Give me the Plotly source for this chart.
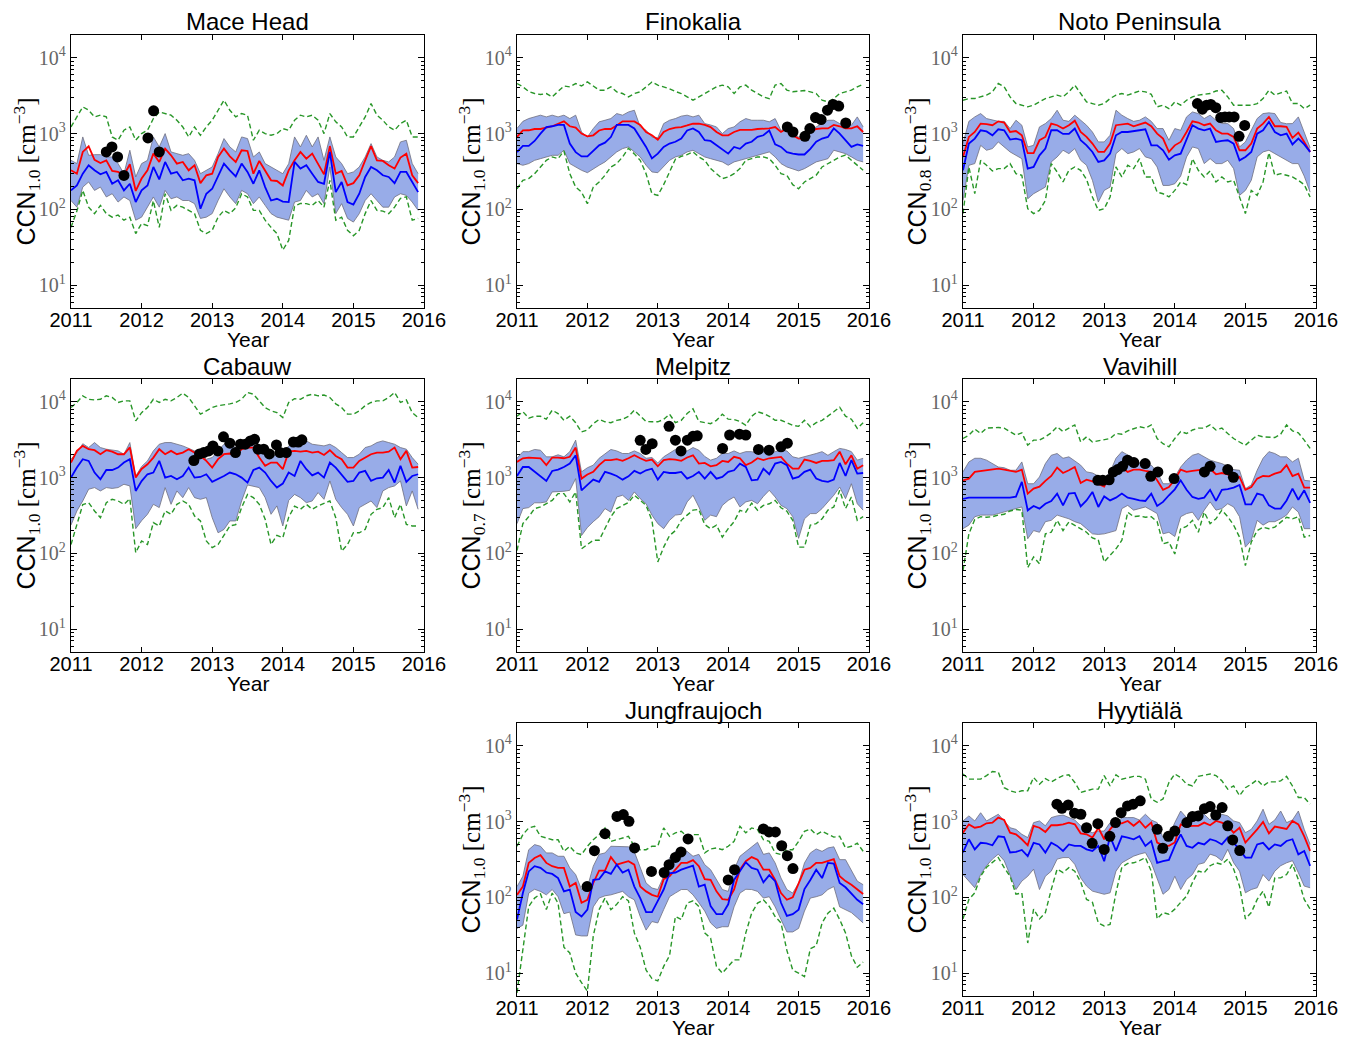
import plotly.graph_objects as go

# ---------------- time axis (monthly, 2011-01 .. 2015-12) ----------------
MONTHS = [2011 + m / 12 for m in range(60)]
YEARS = [2011, 2012, 2013, 2014, 2015, 2016]
YEAR_LABELS = ["2011", "2012", "2013", "2014", "2015", "2016"]
Y_TICKS = [10, 100, 1000, 10000]
Y_TICK_LABELS = ["10<sup>1</sup>", "10<sup>2</sup>", "10<sup>3</sup>", "10<sup>4</sup>"]

# ---------------- Mace Head ----------------
MH_MEAN = [328,296,573,680,452,410,444,322,312,282, 394,175,255,328,544,423,634,517,402,423,
           328,382,222,282,296,492,634,502,423,603, 590,296,436,328,242,237,207,328,444,573,
           467,544,402,290,685,296,322,207,222,282, 444,685,444,436,382,345,482,544,282,222]
MH_MEDIAN = [178,207,296,382,328,290,312,218,242,178, 218,125,178,207,363,249,423,296,312,242,
             255,242,102,161,187,282,402,328,273,402, 312,218,328,197,131,138,127,125,423,345,
             382,296,230,218,573,169,230,125,116,161, 268,363,328,282,268,222,312,312,230,169]
MH_P75 = [444,402,904,517,528,528,492,492,402,296, 603,268,402,444,904,667,1000,573,544,517,
          544,444,296,328,363,544,860,667,573,904, 860,492,573,402,363,328,296,400,904,667,
          950,667,904,444,904,492,402,296,312,363, 492,738,492,444,423,492,777,817,402,296]
MH_P25 = [131,107,197,230,178,197,146,161,125,146, 131,72,79,107,146,107,178,138,146,131,
          131,119,76,79,88,131,187,146,119,178, 161,119,146,113,88,79,76,72,125,131,
          178,146,161,119,363,88,119,76,68,88, 131,161,131,107,107,146,161,153,125,97]
MH_P95 = [1225,1661,2252,2034,1661,1750,1661,904,817,1107, 1225,817,1000,1107,1580,1930,1838,1750,1501,1225,
          904,1225,950,1225,1501,2034,2757,2034,1661,1838, 1750,817,1107,1000,950,1000,1165,1107,1501,1750,
          1661,1750,1501,1000,1838,1430,1225,904,904,1225, 1661,2492,1750,1501,1225,1107,1356,1501,904,904]
MH_P05 = [58,95,178,107,88,113,88,79,84,72, 79,48,65,61,130,58,161,97,113,107,
          97,88,53,48,53,79,97,88,105,161, 146,97,97,72,58,48,29,39,110,120,
          119,113,131,107,242,72,79,53,45,53, 88,131,97,95,88,107,140,146,72,76]
MH_OBS_T = [2011.50, 2011.58, 2011.66, 2011.75, 2012.09, 2012.17, 2012.25]
MH_OBS_V = [573, 667, 492, 281, 877, 2000, 573]

# ---------------- Finokalia ----------------
FK_MEAN = [904,1100,1107,1150,1150,1200,1250,1350,1450,1250, 1200,1000,920,950,1100,1150,1150,1280,1450,1450,
           1450,1300,1050,950,830,1050,1150,1200,1220,1280, 1350,1350,1300,1220,1050,950,950,1050,1120,1120,
           1120,1150,1170,1170,1220,1050,1170,950,860,860, 1050,1150,1170,1170,1300,1250,1170,1170,1250,1050]
FK_MEDIAN = [570,690,690,800,1000,1220,1250,1300,1300,740, 570,500,500,600,700,760,900,1300,1300,1300,
             1170,900,667,470,544,667,740,780,860,1100, 1170,1050,817,800,700,630,544,667,630,740,
             780,904,950,1100,720,667,570,544,530,530, 630,780,860,904,1170,1000,817,667,720,690]
FK_P75 = [1170,1450,1580,1661,1750,1661,1750,1661,1750,1580, 1750,1050,900,1165,1430,1501,1580,1838,1750,1930,
          2034,1225,1107,900,880,1356,1501,1580,1700,1750, 1661,1750,1356,1300,1225,1000,1165,1225,1430,1580,
          1501,1501,1501,1430,1580,1100,1250,1050,900,920, 1107,1225,1356,1501,1501,1356,1290,1290,1661,1225]
FK_P25 = [402,382,402,444,467,492,517,517,603,402, 363,328,305,345,382,423,492,573,634,667,
          573,492,382,312,305,363,444,492,517,573, 603,544,492,467,444,423,382,423,444,467,
          492,517,544,573,492,402,363,345,322,345, 382,423,444,467,603,573,544,492,444,423]
FK_P95 = [4580,4140,3600,3380,3280,3380,3050,3600,4250,4140, 4580,4250,4800,4250,3740,3740,4140,3560,3380,3050,
          3380,3560,4140,4800,4360,4140,3900,3600,3380,3050, 2757,3050,3380,3740,4140,4360,4140,3380,4140,4360,
          3740,3380,3050,2900,4360,4580,3740,3560,3650,3700, 3560,3380,2757,2620,2900,3380,3560,3740,4140,4480]
FK_P05 = [187,242,255,296,363,444,492,467,590,296, 197,169,119,197,230,282,363,402,492,640,
          540,444,296,161,153,212,312,460,502,528, 573,492,444,345,296,255,268,296,345,444,
          467,492,492,467,382,296,282,212,187,230, 255,282,363,402,444,492,520,444,382,328]
FK_OBS_T = [2014.84, 2014.92, 2015.09, 2015.16, 2015.24, 2015.32, 2015.41, 2015.49, 2015.57, 2015.67]
FK_OBS_V = [1225, 1050, 920, 1165, 1630, 1530, 2034, 2430, 2310, 1380]

# ---------------- Noto Peninsula ----------------
NP_MEAN = [492,904,1050,1356,1330,1290,1450,1400,1050,1080, 950,552,552,817,904,1356,1290,1165,1290,1480,
           1050,904,738,573,573,738,1290,1330,1356,1250, 1330,1400,1250,1000,860,573,700,777,1050,1450,
           1400,1290,1356,1107,1000,1000,904,603,603,738, 1165,1356,1661,1250,1250,1225,880,1030,777,573]
NP_MEDIAN = [328,738,860,1107,1070,950,1140,1107,834,860, 817,345,363,517,634,1107,1107,990,990,1165,
             817,700,573,423,444,544,950,1050,1050,1070, 1107,1140,700,700,603,453,517,544,817,1290,
             1165,1107,1165,777,800,817,738,444,492,573, 1000,1107,1430,1050,950,1000,720,860,720,573]
NP_P75 = [738,1450,1661,1838,1580,1530,1450,1450,1165,1501, 1290,667,700,1225,1356,1580,2034,1501,1450,1750,
          1501,1290,1050,777,777,950,2034,1750,1580,1450, 1501,1661,1450,1165,1165,817,1165,1107,1661,1930,
          1838,1580,1750,1501,1356,1356,1165,667,777,1107, 1580,1838,1880,1838,1400,1350,1356,1661,1050,650]
NP_P25 = [131,382,402,700,603,634,777,667,573,517, 467,138,161,178,197,423,492,603,544,634,
          444,382,242,125,178,197,544,634,544,573, 634,492,467,363,207,207,218,275,492,667,
          634,402,467,402,402,444,345,153,178,242, 492,573,603,544,492,444,402,402,275,169]
NP_P95 = [2757,2900,2900,3050,3220,3560,4580,4140,3050,2492, 2370,2252,2370,2620,2900,3050,3220,3050,3560,4360,
          3380,2620,2492,2370,2492,2900,3220,3380,3220,3450, 3650,3560,3300,2252,2370,2140,2620,2370,2757,3050,
          3220,3300,3380,3650,3740,3050,2370,2370,2370,2370, 2492,2900,3740,3220,3450,3650,2492,2492,2140,2370]
NP_P05 = [88,363,161,444,382,322,345,345,402,296, 282,102,88,97,131,402,312,230,328,363,
          328,249,146,97,102,146,363,268,382,345, 467,268,268,169,161,146,178,230,212,467,
          328,268,322,230,268,230,242,146,88,178, 153,230,560,282,296,282,268,242,212,146]
NP_OBS_T = [2014.32, 2014.39, 2014.45, 2014.51, 2014.58, 2014.65, 2014.71, 2014.77, 2014.84, 2014.91, 2014.99]
NP_OBS_V = [2492, 2100, 2370, 2430, 2200, 1630, 1661, 1661, 1661, 920, 1280]

# ---------------- Cabauw ----------------
CB_MEAN = [1580,2250,2620,2370,2300,2034,2300,2200,2034,2034, 2500,1000,1300,1500,1838,2370,2034,2252,2034,2140,
           2370,2140,1930,1661,1356,1750,2034,2080,2034,2370, 2492,2492,1838,1430,1580,1580,1290,2200,2252,2200,
           2252,2140,2200,1990,2300,1930,1750,1356,1356,1661, 1838,2034,2140,2140,2200,2492,1750,2252,1356,1380]
CB_MEDIAN = [1000,1356,1750,1661,1165,950,1260,1260,1356,1580, 1750,667,900,1107,1165,1661,1000,1050,950,1050,
             1356,1000,1020,1107,880,950,1050,1165,1107,1000, 860,1260,1356,1165,904,738,834,1165,1050,1661,
             1290,1070,1165,1000,1580,1356,1107,880,904,1165, 1225,904,980,1000,1260,860,1430,880,1050,1107]
CB_P75 = [1750,2140,2800,2492,2900,2492,2370,2300,2252,2034, 2900,1050,1400,1661,2252,2757,2900,2900,2757,2620,
          2430,2252,2034,1750,1838,2252,2757,2757,2492,2757, 2620,2757,2252,2034,1838,2034,2034,2620,2757,2900,
          3050,2757,2700,2620,2757,2492,2140,1838,1838,2034, 2492,2620,2900,3050,2900,2757,2492,2370,1838,1501]
CB_P25 = [237,363,492,702,738,667,738,720,738,817, 777,212,270,328,444,402,738,444,667,544,
          738,544,517,544,296,187,207,268,268,492, 800,760,738,544,328,423,230,500,600,544,
          467,492,634,517,904,517,402,328,230,402, 444,492,402,667,738,777,904,423,667,382]
CB_P95 = [8400,9800,12000,10800,10600,10800,12000,11400,9800,10300, 10300,5600,7200,8400,10800,9800,10800,10300,11400,13000,
          11400,8900,6870,7600,8400,8900,9100,9400,9800,10800, 13300,12600,10300,8400,7600,7200,6210,9800,11000,10800,
          12000,12600,12000,12300,11400,9400,8400,6870,6870,7600, 8900,9800,10300,10300,11400,13300,9800,10600,7200,6210]
CB_P05 = [131,242,440,467,363,296,467,517,492,444, 528,102,146,131,255,230,363,328,444,492,
          444,312,268,146,119,131,173,230,240,402, 600,544,444,282,131,173,161,300,420,382,
          444,382,423,460,492,296,107,131,187,187, 207,328,382,402,544,296,444,242,230,230]
CB_OBS_T = [2012.74, 2012.82, 2012.88, 2012.95, 2013.01, 2013.08, 2013.16, 2013.25, 2013.33, 2013.40, 2013.47,
            2013.54, 2013.60, 2013.65, 2013.73, 2013.81, 2013.91, 2013.96, 2014.05, 2014.15, 2014.22, 2014.27]
CB_OBS_V = [1680, 2050, 2140, 2252, 2620, 2252, 3450, 2850, 2140, 2757, 2757,
            3050, 3200, 2370, 2370, 2050, 2700, 2140, 2140, 2950, 2950, 3150]

# ---------------- Melpitz ----------------
ML_MEAN = [1610,1800,1840,1840,1800,1460,1840,1840,1800,1880, 2492,970,1100,1190,1460,1700,1700,1750,1661,1800,
           1970,1800,1661,1730,1410,1700,1750,1730,1661,1840, 1970,1530,1560,1410,1460,1661,1610,1880,1800,1460,
           1580,1800,1700,1800,1840,1880,1530,1310,1310,1730, 1661,1560,1661,1661,1700,2200,1500,1970,1310,1460]
ML_MEDIAN = [1050,1380,1380,1190,1020,904,1225,1275,1380,1530, 1970,680,800,940,880,1190,1130,1050,940,1040,
             1225,1130,1250,1310,940,1190,1150,1150,1190,970, 1050,1190,970,1190,970,1020,1190,1250,1530,1380,
             920,940,1310,1107,1530,1610,1460,970,1020,1190, 1275,970,904,880,940,1560,1050,1700,1130,1150]
ML_P75 = [1800,2200,2200,2350,2300,1880,1880,2000,1880,2200, 3120,1190,1350,1460,1800,2080,2350,2250,2080,2080,
          2250,2080,1800,1840,1560,1880,2080,2350,2200,2250, 2492,2300,1900,1700,1800,2080,2080,2250,2080,2200,
          2200,2080,2200,2080,2200,2300,2250,1880,1800,1880, 1970,2080,2200,1970,2200,2430,2350,2200,1700,1800]
ML_P25 = [247,390,402,465,465,478,647,647,660,680, 970,172,220,262,305,390,350,555,585,500,
          647,528,452,320,247,212,273,320,328,478, 585,410,273,320,305,430,500,555,410,478,
          500,452,565,680,555,430,390,305,158,286, 335,335,390,478,585,750,528,830,452,372]
ML_P95 = [6450,7400,6100,6450,6450,5900,7750,7000,5700,6450, 5300,4000,4250,5150,5850,5450,5300,5700,5900,6450,
          7750,6450,5500,5450,5450,5850,6870,5300,5700,7000, 8100,5500,5300,5150,5700,6870,5900,5850,5500,4900,
          6450,7400,7000,6450,5700,5700,5300,4900,4750,5700, 4680,5300,5700,6450,7400,8500,6450,5900,4450,5300]
ML_P05 = [109,247,305,390,410,450,500,615,615,478, 647,115,130,149,149,212,305,390,430,470,
          585,500,430,273,77,121,172,200,273,320, 372,380,240,212,236,164,212,262,370,350,
          460,372,430,452,500,400,360,273,121,121, 236,247,286,372,410,680,390,555,273,305]
ML_OBS_T = [2012.75, 2012.83, 2012.92, 2013.16, 2013.25, 2013.33, 2013.42, 2013.50, 2013.56,
            2013.92, 2014.02, 2014.16, 2014.25, 2014.43, 2014.58, 2014.75, 2014.84]
ML_OBS_V = [3100, 2350, 2800, 4750, 3120, 2250, 3120, 3500, 3560, 2430, 3650, 3740, 3650, 2350, 2300, 2550, 2850]

# ---------------- Vavihill ----------------
VH_MEAN = [920,970,1190,1220,1250,1290,1310,1275,1220,1190, 1275,615,715,760,904,1050,1356,1150,1250,1380,
           850,940,890,830,760,1107,1130,1356,1190,1275, 1275,1225,1190,920,690,750,940,1275,1190,1225,
           1250,1275,1310,1107,1150,1107,940,1020,690,750, 970,1050,1040,1130,1190,1460,1050,1130,738,738]
VH_MEDIAN = [525,544,544,544,544,544,544,544,544,560, 880,370,423,390,452,492,615,430,615,628,
             418,500,647,410,565,500,544,615,544,525, 500,492,615,423,478,585,700,920,690,555,
             525,544,690,492,690,705,738,800,444,444, 615,585,430,390,390,500,715,510,680,465]
VH_P75 = [1190,1610,1800,1800,1700,1530,1380,1350,1250,1250, 1610,830,830,1020,1530,1970,2080,1800,1880,1661,
          1460,1190,1150,1050,970,1190,1800,2200,1970,1800, 1560,1530,1460,1190,830,830,1020,1380,1700,1970,
          2080,1880,1700,1610,1530,1410,1275,1250,715,800, 1250,1800,2200,2080,1880,1880,1610,1800,920,904]
VH_P25 = [212,236,305,320,320,320,335,350,372,390, 410,156,200,190,262,273,320,305,286,262,
          247,212,181,178,181,190,200,390,430,372, 390,410,372,335,181,190,167,305,335,350,
          273,372,478,372,390,452,410,305,121,149, 273,236,262,262,286,320,410,350,212,212]
VH_P95 = [3280,3630,4370,3820,4500,4580,4580,4500,4050,3630, 3900,2680,3120,3120,3450,3900,4700,4050,4500,4950,
          2950,3450,2950,3050,3120,3280,3820,3740,4140,4370, 4700,4500,4950,3280,2800,2550,3280,4050,3820,4250,
          4500,4500,4950,4250,4500,3820,3280,2950,2680,3120, 3630,3450,3380,3380,3740,4950,4140,3900,3120,2430]
VH_P05 = [59,181,280,305,300,305,320,328,363,380, 372,65,90,73,181,190,273,200,260,236,
          212,190,160,150,77,94,115,149,350,305, 312,300,305,262,134,141,98,212,227,273,
          190,350,247,286,372,305,236,164,69,141, 200,222,212,222,262,300,286,305,164,172]
VH_OBS_T = [2012.91, 2012.98, 2013.07, 2013.13, 2013.19, 2013.26, 2013.33, 2013.42, 2013.58, 2013.66,
            2013.76, 2013.99, 2014.42, 2014.50, 2014.75, 2014.83]
VH_OBS_V = [920, 920, 935, 1190, 1275, 1410, 1700, 1580, 1530, 1040, 1190, 970, 1190, 1410, 1275, 1010]

# ---------------- Jungfraujoch ----------------
JF_MEAN = [108,139,285,331,360,285,258,245,245,139, 155,85,93,155,226,226,340,270,285,300,
           270,139,120,108,102,174,190,232,285,285, 310,258,174,170,120,95,93,127,232,300,
           340,315,232,232,170,114,93,100,155,232, 245,285,285,300,320,190,164,147,127,111]
JF_MEDIAN = [51,114,220,258,245,213,204,180,120,127, 64,56,69,170,174,220,204,270,213,232,
             139,98,64,64,90,127,208,213,232,245, 263,139,147,77,60,60,81,170,220,290,
             245,232,158,197,164,85,57,60,69,129, 170,232,180,285,280,155,136,114,93,81]
JF_P75 = [139,190,426,497,473,386,386,349,349,245, 200,127,136,258,370,386,473,473,473,465,
          400,245,155,133,127,190,331,405,426,405, 349,370,270,232,170,127,120,232,349,405,
          473,534,370,386,285,180,127,114,155,285, 386,436,405,449,465,315,315,232,164,147]
JF_P25 = [39,43,114,128,120,108,127,102,61,64, 32,31,31,75,98,105,108,114,120,102,
          93,56,37,48,46,69,102,114,127,127, 108,85,66,46,39,41,41,75,114,128,
          127,120,98,102,75,51,35,35,39,66, 98,102,108,127,139,75,69,63,54,46]
JF_P95 = [473,674,825,868,640,608,577,577,406,473, 386,367,473,577,674,825,548,577,608,640,
          470,426,426,473,473,825,640,710,745,640, 674,674,386,436,449,426,473,548,868,710,
          825,785,577,548,386,367,426,426,548,745, 800,674,745,674,625,640,449,473,520,406]
JF_P05 = [5.5,22,76,98,111,69,114,84,22,18.5, 10,7.5,5.8,31,69,98,69,81,102,90,
          34,22,11,8.5,7.9,12.3,17,56,51,84, 90,76,34,29,12.3,10,12.3,15,15,34,
          62,84,93,76,56,46,20,11,10,9, 21,23,46,62,72,51,34,17,12,14]
JF_OBS_T = [2011.995, 2012.10, 2012.25, 2012.42, 2012.51, 2012.59, 2012.67, 2012.91, 2013.09, 2013.16, 2013.25,
            2013.33, 2013.43, 2014.00, 2014.09, 2014.50, 2014.58, 2014.67, 2014.76, 2014.84, 2014.92]
JF_OBS_V = [139, 414, 693, 1170, 1240, 1010, 449, 220, 213, 270, 337, 398, 590, 170, 232, 800, 730, 730, 480, 355, 240]

# ---------------- Hyytiälä ----------------
HY_MEAN = [715,920,830,860,950,970,1130,1050,715,680, 585,487,880,830,730,895,895,920,970,920,
           700,680,615,830,585,790,970,950,1020,880, 1020,830,970,530,487,478,530,920,860,880,
           880,970,895,1020,970,880,715,830,530,640, 790,990,700,860,830,800,1020,920,640,410]
HY_MEDIAN = [391,585,430,525,517,487,640,625,391,398, 423,350,525,500,391,525,478,410,500,478,
             478,430,410,478,300,640,410,640,615,585, 640,478,555,286,300,312,478,680,478,452,
             525,500,585,555,500,615,525,430,335,335, 500,525,430,500,478,555,585,370,410,260]
HY_P75 = [1020,1190,1020,1310,1020,1130,1250,1020,830,790, 680,615,970,1020,880,1130,1190,1220,1130,1050,
          880,750,715,750,750,970,920,1130,1130,1130, 1050,1250,1050,970,615,640,970,1380,1130,1250,
          1380,1250,1050,1310,1250,1190,1020,970,715,790, 1020,1460,920,1050,1380,970,1050,1380,790,500]
HY_P25 = [200,164,134,200,262,320,372,305,200,127, 164,190,236,127,190,222,320,335,335,273,
          181,141,121,115,110,115,222,286,320,350, 372,390,286,181,110,127,190,127,172,200,
          273,286,372,350,305,430,286,222,115,127, 134,200,164,222,262,286,305,212,141,134]
HY_P95 = [4250,3630,3630,3630,4050,4580,4500,2800,2550,2430, 2550,2550,3820,3120,3700,3340,3700,4050,4140,3280,
          2430,2550,2680,2680,4050,2950,4140,3630,3820,3950, 3950,3630,1990,1800,1990,3280,4250,3820,3120,2950,
          3950,4050,4250,4050,3450,2680,2950,2200,2800,3120, 3560,2950,3340,3340,3450,3950,2950,2080,2080,1700]
HY_P05 = [52,94,115,190,250,286,335,247,190,110, 115,25,70,52,63,127,236,212,247,222,
          160,94,86,46,42,44,115,250,280,286, 305,335,222,52,63,60,70,86,104,157,
          222,212,262,286,273,320,236,141,52,63, 94,121,74,181,181,200,273,172,94,70]
HY_OBS_T = [2012.33, 2012.40, 2012.49, 2012.58, 2012.67, 2012.75, 2012.83, 2012.91, 2013.00, 2013.08,
            2013.16, 2013.24, 2013.33, 2013.41, 2013.51, 2013.75, 2013.83, 2013.91, 2014.00, 2014.17,
            2014.25, 2014.33, 2014.42, 2014.50, 2014.58, 2014.67, 2014.75, 2014.82, 2014.92]
HY_OBS_V = [1700, 1501, 1661, 1290, 1250, 830, 517, 940, 430, 640,
            970, 1310, 1610, 1700, 1880, 790, 445, 640, 750, 970,
            1165, 1190, 1480, 1580, 1220, 1530, 880, 573, 415]

# ---------------- panel definitions (row, col) ----------------
PANELS = [
    ("Mace Head", "1.0", 0, 0, MH_MEAN, MH_MEDIAN, MH_P25, MH_P75, MH_P05, MH_P95, MH_OBS_T, MH_OBS_V),
    ("Finokalia", "1.0", 0, 1, FK_MEAN, FK_MEDIAN, FK_P25, FK_P75, FK_P05, FK_P95, FK_OBS_T, FK_OBS_V),
    ("Noto Peninsula", "0.8", 0, 2, NP_MEAN, NP_MEDIAN, NP_P25, NP_P75, NP_P05, NP_P95, NP_OBS_T, NP_OBS_V),
    ("Cabauw", "1.0", 1, 0, CB_MEAN, CB_MEDIAN, CB_P25, CB_P75, CB_P05, CB_P95, CB_OBS_T, CB_OBS_V),
    ("Melpitz", "0.7", 1, 1, ML_MEAN, ML_MEDIAN, ML_P25, ML_P75, ML_P05, ML_P95, ML_OBS_T, ML_OBS_V),
    ("Vavihill", "1.0", 1, 2, VH_MEAN, VH_MEDIAN, VH_P25, VH_P75, VH_P05, VH_P95, VH_OBS_T, VH_OBS_V),
    ("Jungfraujoch", "1.0", 2, 1, JF_MEAN, JF_MEDIAN, JF_P25, JF_P75, JF_P05, JF_P95, JF_OBS_T, JF_OBS_V),
    ("Hyytiälä", "1.0", 2, 2, HY_MEAN, HY_MEDIAN, HY_P25, HY_P75, HY_P05, HY_P95, HY_OBS_T, HY_OBS_V),
]

W, H = 1354, 1038
COL_PX = [(71, 424), (517, 869), (963, 1316)]
ROW_PX = [(35, 308), (379, 652), (723, 996)]
YLAB_X = [26, 471, 917]

SANS = "Liberation Sans, Arial, Helvetica, sans-serif"
SERIF = "Liberation Serif, DejaVu Serif, serif"

MINOR_VALS = [m * 10 ** e for e in range(0, 5) for m in range(2, 10)]

fig = go.Figure()
layout = dict(
    width=W, height=H, margin=dict(l=0, r=0, t=0, b=0, pad=0, autoexpand=False),
    paper_bgcolor="white", plot_bgcolor="white", showlegend=False,
    font=dict(family=SANS, color="black"),
)
annotations = []

for k, (name, ss, r, c, mean, med, p25, p75, p05, p95, ot, ov) in enumerate(PANELS):
    n = k + 1
    xa = "x" if n == 1 else f"x{n}"
    ya = "y" if n == 1 else f"y{n}"
    x0, x1 = COL_PX[c]
    y0, y1 = ROW_PX[r]
    common = dict(xaxis=xa, yaxis=ya, hoverinfo="skip")

    fig.add_trace(go.Scatter(x=MONTHS, y=p25, mode="lines",
                             line=dict(color="rgb(110,110,125)", width=0.8), **common))
    fig.add_trace(go.Scatter(x=MONTHS, y=p75, mode="lines", fill="tonexty",
                             fillcolor="rgb(152,172,232)",
                             line=dict(color="rgb(110,110,125)", width=0.8), **common))
    for band in (p95, p05):
        fig.add_trace(go.Scatter(x=MONTHS, y=band, mode="lines",
                                 line=dict(color="rgb(40,150,40)", width=1.4, dash="5px,3px"),
                                 **common))
    fig.add_trace(go.Scatter(x=MONTHS, y=mean, mode="lines",
                             line=dict(color="rgb(255,0,0)", width=1.8), **common))
    fig.add_trace(go.Scatter(x=MONTHS, y=med, mode="lines",
                             line=dict(color="rgb(0,0,255)", width=1.8), **common))
    fig.add_trace(go.Scatter(x=ot, y=ov, mode="markers",
                             marker=dict(color="black", size=11), **common))

    layout["xaxis" if n == 1 else f"xaxis{n}"] = dict(
        domain=[x0 / W, x1 / W], anchor=ya, range=[2011, 2016], automargin=False,
        tickmode="array", tickvals=YEARS, ticktext=YEAR_LABELS,
        ticks="inside", ticklen=5, tickwidth=1, tickcolor="black",
        showline=True, linecolor="black", linewidth=1.3, mirror="allticks",
        showgrid=False, zeroline=False, ticklabelstandoff=-6,
        tickfont=dict(family=SANS, size=20, color="black"),
    )
    layout["yaxis" if n == 1 else f"yaxis{n}"] = dict(
        domain=[1 - y1 / H, 1 - y0 / H], anchor=xa, type="log", automargin=False,
        range=[0.699, 4.301],
        tickmode="array", tickvals=Y_TICKS, ticktext=Y_TICK_LABELS,
        ticks="inside", ticklen=6, tickwidth=1, tickcolor="black",
        minor=dict(tickmode="array", tickvals=MINOR_VALS, ticks="inside",
                   ticklen=3, tickwidth=0.8, tickcolor="black"),
        showline=True, linecolor="black", linewidth=1.3, mirror="allticks",
        showgrid=False, zeroline=False,
        tickfont=dict(family=SERIF, size=20, color="#666666"),
    )

    cx = (x0 + x1) / 2 / W
    annotations.append(dict(text=name, x=cx, y=1 - (y0 - 13) / H, xref="paper", yref="paper",
                            showarrow=False, xanchor="center", yanchor="middle",
                            font=dict(family=SANS, size=24, color="black")))
    annotations.append(dict(text="Year", x=cx, y=1 - (y1 + 31) / H, xref="paper", yref="paper",
                            showarrow=False, xanchor="center", yanchor="middle",
                            font=dict(family=SANS, size=21, color="black")))
    ylab = ("CCN<span style=\"font-family:'Liberation Serif'\"><sub>" + ss + "</sub> "
            "[cm<sup>\u22123</sup>]</span>")
    annotations.append(dict(text=ylab, x=YLAB_X[c] / W, y=1 - (y0 + y1) / 2 / H,
                            xref="paper", yref="paper", textangle=-90,
                            showarrow=False, xanchor="center", yanchor="middle",
                            font=dict(family=SANS, size=25, color="black")))

layout["annotations"] = annotations
fig.update_layout(**layout)
fig.write_html("out.html")
